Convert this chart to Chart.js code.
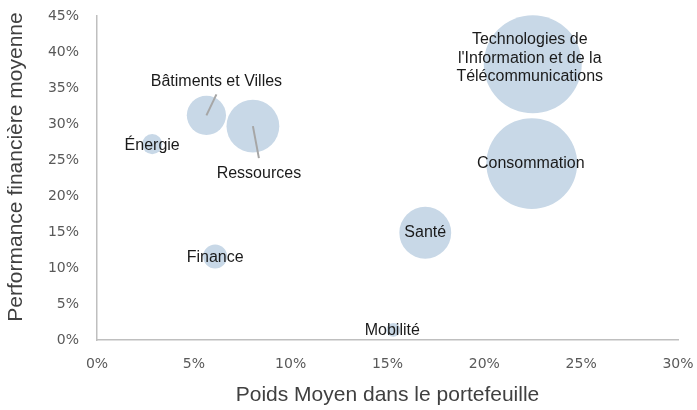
<!DOCTYPE html>
<html lang="fr">
<head>
<meta charset="utf-8">
<script src="https://cdn.jsdelivr.net/npm/chart.js@4"></script>
<style>
  html, body { margin: 0; padding: 0; background: #fff; }
  #wrap { width: 697px; height: 410px; }
</style>
</head>
<body>
<div id="wrap"><canvas id="bubbleChart" width="697" height="410"></canvas></div>
<script>
// Secteurs et valeurs
const secteurs = ['Énergie', 'Bâtiments et Villes', 'Ressources', 'Finance', 'Mobilité', 'Santé', 'Consommation',
    "Technologies de\nl'Information et de la\nTélécommunications"];
const poidsMoyen = [2.85, 5.65, 8.05, 6.1, 15.3, 16.95, 22.45, 22.5];     // % du portefeuille
const performance = [27.2, 31.2, 29.7, 11.6, 1.4, 14.9, 24.5, 38.3];     // % perf. moyenne
const tailles = [4.2, 16, 29, 6, 2, 28, 86, 100];                        // taille relative des bulles
const ticksX = [0, 5, 10, 15, 20, 25, 30];
const ticksY = [0, 5, 10, 15, 20, 25, 30, 35, 40, 45];

// position des étiquettes par rapport au centre de la bulle (px)
const decalages = [[0, 1], [10, -34], [6, 47], [0, 1], [-1, 1], [0, 0], [-1, 0], [-3, -6]];
// traits de rappel : extrémité par rapport au centre (px)
const rappels = { 1: [10, -21], 2: [6, 32] };

const RMAX = 49;
const points = secteurs.map((s, i) => ({
    x: poidsMoyen[i],
    y: performance[i],
    r: RMAX * Math.sqrt(tailles[i] / 100)
}));

const etiquettes = {
    id: 'etiquettes',
    afterDatasetsDraw(chart) {
        const ctx = chart.ctx;
        const meta = chart.getDatasetMeta(0);
        ctx.save();
        // traits de rappel
        ctx.strokeStyle = '#a6a6a6';
        ctx.lineWidth = 2;
        Object.keys(rappels).forEach(k => {
            const el = meta.data[k];
            ctx.beginPath();
            ctx.moveTo(el.x, el.y);
            ctx.lineTo(el.x + rappels[k][0], el.y + rappels[k][1]);
            ctx.stroke();
        });
        // textes
        ctx.fillStyle = '#1a1a1a';
        ctx.font = '16px "Liberation Sans", Arial, sans-serif';
        ctx.textAlign = 'center';
        ctx.textBaseline = 'middle';
        meta.data.forEach((el, i) => {
            const lignes = secteurs[i].split('\n');
            const lh = 18.5;
            const cx = el.x + decalages[i][0];
            const cy = el.y + decalages[i][1] - (lignes.length - 1) * lh / 2;
            lignes.forEach((l, j) => ctx.fillText(l, cx, cy + j * lh));
        });
        // titre de l'axe vertical
        const a = chart.chartArea;
        ctx.fillStyle = '#404040';
        ctx.font = '21px "Liberation Sans", Arial, sans-serif';
        ctx.translate(16, (a.top + a.bottom) / 2 - 11);
        ctx.rotate(-Math.PI / 2);
        ctx.fillText('Performance financière moyenne', 0, 0);
        ctx.restore();
    }
};

const ctx = document.getElementById('bubbleChart').getContext('2d');
new Chart(ctx, {
    type: 'bubble',
    data: {
        datasets: [{
            label: 'Secteurs',
            data: points,
            backgroundColor: '#c8d8e7',
            borderWidth: 0,
            hoverBackgroundColor: '#c8d8e7',
            clip: false
        }]
    },
    options: {
        responsive: false,
        animation: false,
        events: [],
        layout: { autoPadding: false, padding: { top: 16, right: 19, left: 0, bottom: 0 } },
        plugins: { legend: { display: false }, tooltip: { enabled: false } },
        scales: {
            x: {
                type: 'linear', min: 0, max: 30,
                afterBuildTicks: s => { s.ticks = ticksX.map(v => ({ value: v })); },
                afterFit: s => { s.height = 70; s.paddingLeft = 0; s.paddingRight = 0; },
                grid: { display: false, drawTicks: false },
                border: { display: true, color: '#bfbfbf', width: 1.5 },
                ticks: {
                    padding: 16, color: '#595959',
                    font: { family: '"DejaVu Sans"', size: 14 },
                    callback: v => v + '%'
                },
                title: {
                    display: true, text: 'Poids Moyen dans le portefeuille',
                    color: '#404040', padding: { top: 0, bottom: 2 },
                    font: { family: '"Liberation Sans", Arial', size: 21 }
                }
            },
            y: {
                type: 'linear', min: 0, max: 45,
                afterBuildTicks: s => { s.ticks = ticksY.map(v => ({ value: v })); },
                afterFit: s => { s.width = 97; s.paddingTop = 0; s.paddingBottom = 0; },
                grid: { display: false, drawTicks: false },
                border: { display: true, color: '#bfbfbf', width: 1.5 },
                ticks: {
                    padding: 18, color: '#595959',
                    font: { family: '"DejaVu Sans"', size: 14 },
                    callback: v => v + '%'
                }
            }
        }
    },
    plugins: [etiquettes]
});
</script>
</body>
</html>
